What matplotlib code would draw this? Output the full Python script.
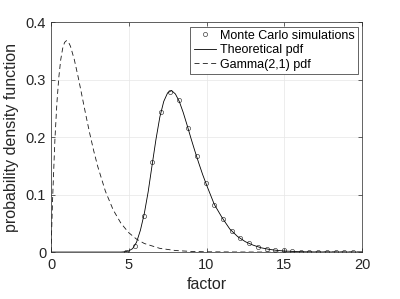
import numpy as np
import matplotlib.pyplot as plt

plt.rcParams['font.family'] = ['Liberation Sans', 'DejaVu Sans']

# Monte Carlo simulation points
mc_x = [4.85, 5.38, 5.96, 6.52, 7.09, 7.67, 8.23, 8.80, 9.36, 9.94,
        10.49, 11.07, 11.62, 12.18, 12.74, 13.29, 13.87, 14.40, 14.97, 15.50,
        16.06, 16.62, 17.18, 17.74, 18.30, 18.86, 19.42]
mc_y = [0.000, 0.011, 0.063, 0.156, 0.243, 0.278, 0.264, 0.216, 0.167, 0.121,
        0.081, 0.057, 0.036, 0.024, 0.015, 0.009, 0.005, 0.004, 0.003, 0.001,
        0.000, 0.000, 0.000, 0.000, 0.000, 0.000, 0.000]

# theoretical pdf
th_x = [0, 4.5, 4.75, 5.0, 5.25, 5.5, 5.75, 6.0, 6.25, 6.5, 6.75, 7.0, 7.25,
        7.5, 7.75, 8.0, 8.25, 8.5, 8.75, 9.0, 9.25, 9.5, 9.75, 10.0, 10.5,
        11.0, 11.5, 12.0, 12.5, 13.0, 13.5, 14.0, 14.5, 15.0, 16.0, 17.0, 20.0]
th_y = [0, 0, 0.0005, 0.002, 0.006, 0.017, 0.038, 0.067, 0.105, 0.151, 0.196,
        0.235, 0.262, 0.277, 0.281, 0.275, 0.262, 0.243, 0.221, 0.198, 0.176,
        0.155, 0.135, 0.117, 0.083, 0.060, 0.040, 0.027, 0.018, 0.012, 0.0075,
        0.0048, 0.003, 0.0018, 0.0006, 0.0002, 0]

# Gamma(2,1) pdf
gm_x = [0, 0.1, 0.25, 0.375, 0.5, 0.625, 0.75, 0.875, 1.0, 1.125, 1.25, 1.5,
        1.75, 2.0, 2.25, 2.5, 2.75, 3.0, 3.5, 4.0, 4.5, 5.0, 5.5, 6.0, 7.0,
        8.0, 9.0, 10.0, 12.0, 14.0, 20.0]
gm_y = [0, 0.0905, 0.1947, 0.2577, 0.3033, 0.3346, 0.3543, 0.3648, 0.3679,
        0.3652, 0.3581, 0.3347, 0.3041, 0.2707, 0.2371, 0.2052, 0.1758, 0.1494,
        0.1057, 0.0733, 0.0500, 0.0337, 0.0225, 0.0149, 0.0064, 0.0027,
        0.0011, 0.00045, 0.0001, 0.00001, 0]

fig = plt.figure(figsize=(4, 2.99), dpi=100)
ax = fig.add_axes([0.1275, 0.157, 0.7775, 0.769])

ax.plot(mc_x, mc_y, 'o', mfc='none', mec='#404040', ms=3, mew=0.5,
        label='Monte Carlo simulations')
ax.plot(th_x, th_y, '-', color='black', lw=0.6, label='Theoretical pdf')
ax.plot(gm_x, gm_y, '--', color='#1a1a1a', lw=0.6, dashes=(6, 4),
        label='Gamma(2,1) pdf')

ax.set_xlim(0, 20)
ax.set_ylim(0, 0.4)
ax.set_xticks([0, 5, 10, 15, 20])
ax.set_yticks([0, 0.1, 0.2, 0.3, 0.4])
ax.set_yticklabels(['0', '0.1', '0.2', '0.3', '0.4'])
ax.tick_params(direction='in', labelsize=10.5, colors='#262626', length=3,
               width=0.5, top=True, right=True)
ax.tick_params(axis='x', pad=4)
for s in ax.spines.values():
    s.set_color('#262626')
    s.set_linewidth(0.5)
ax.grid(True, color='#e6e6e6', lw=0.5)
ax.set_axisbelow(True)

ax.set_xlabel('factor', fontsize=11.5, color='#262626', labelpad=4)
ax.set_ylabel('probability density function', fontsize=11.5, color='#262626',
              labelpad=5)

leg = ax.legend(loc='upper right', fontsize=9, fancybox=False, framealpha=1,
                edgecolor='#262626', borderpad=0.25, handlelength=1.8,
                handletextpad=0.3, labelspacing=0.2, borderaxespad=0.35)
leg.get_frame().set_linewidth(0.5)

plt.savefig('out.png', dpi=100)
